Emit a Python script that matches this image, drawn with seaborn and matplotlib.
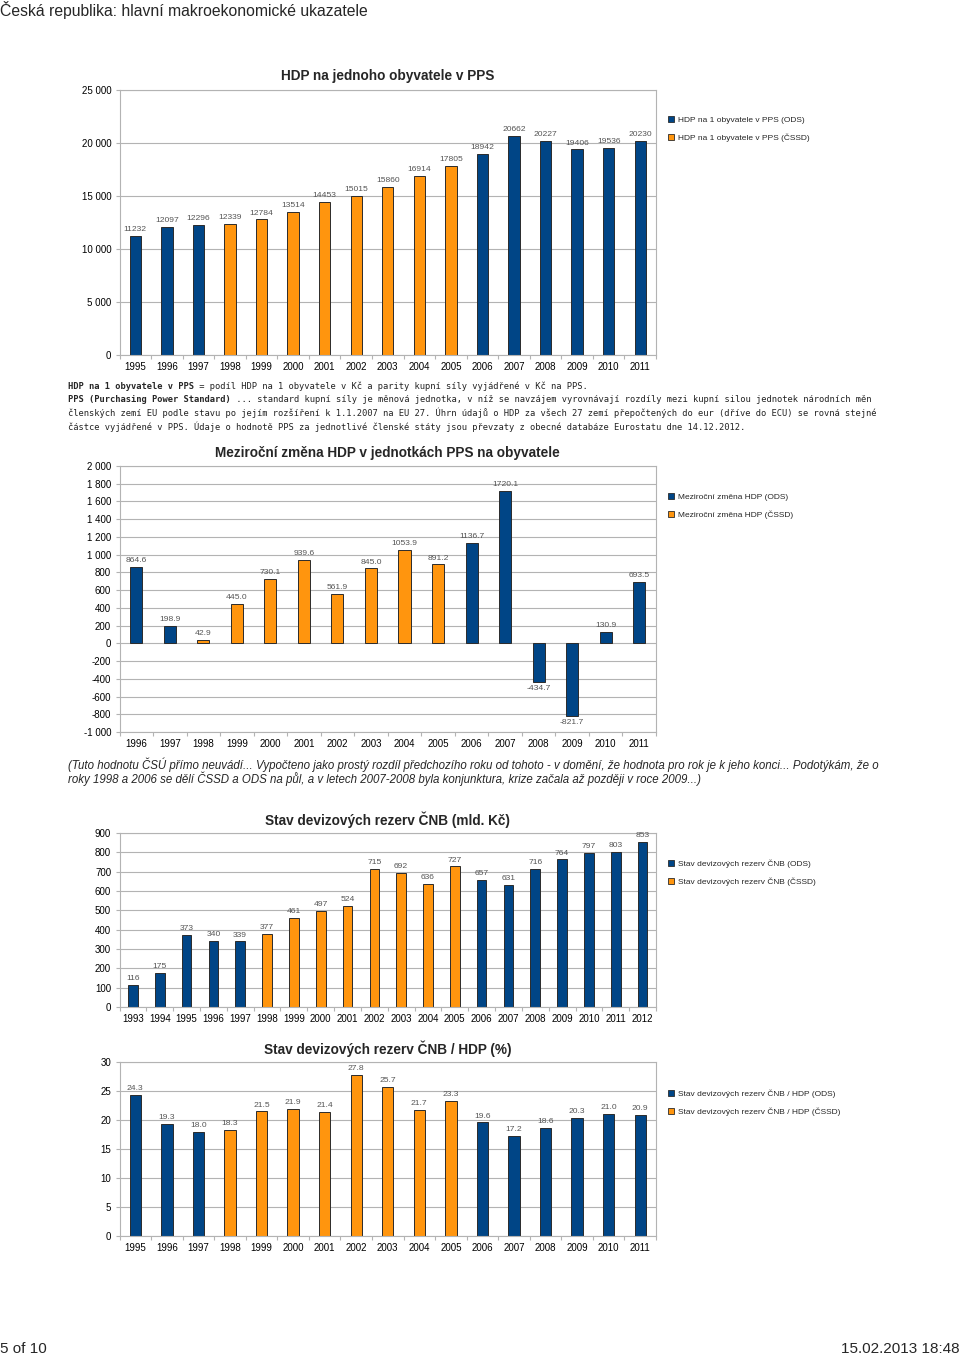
import numpy as np
import pandas as pd
import matplotlib
matplotlib.use('Agg')
import matplotlib.pyplot as plt
from matplotlib.patches import Patch
from matplotlib.ticker import FuncFormatter, MultipleLocator
import seaborn as sns

# ---------------- data ----------------
years_hdp = [str(y) for y in range(1995, 2012)]
hdp_pps = [11232, 12097, 12296, 12339, 12784, 13514, 14453, 15015, 15860,
           16914, 17805, 18942, 20662, 20227, 19406, 19536, 20230]

years_chg = [str(y) for y in range(1996, 2012)]
hdp_chg = [864.6, 198.9, 42.9, 445.0, 730.1, 939.6, 561.9, 845.0, 1053.9,
           891.2, 1136.7, 1720.1, -434.7, -821.7, 130.9, 693.5]

years_rez = [str(y) for y in range(1993, 2013)]
rezervy = [116, 175, 373, 340, 339, 377, 461, 497, 524, 715, 692, 636, 727,
           657, 631, 716, 764, 797, 803, 853]

years_pct = [str(y) for y in range(1995, 2012)]
rez_pct = [24.3, 19.3, 18.0, 18.3, 21.5, 21.9, 21.4, 27.8, 25.7, 21.7, 23.3,
           19.6, 17.2, 18.6, 20.3, 21.0, 20.9]

cssd_years = [str(y) for y in range(1998, 2006)]
parties = ['ODS', 'ČSSD']
party_colors = {'ODS': '#004586', 'ČSSD': '#ff950e'}

titles = ['HDP na jednoho obyvatele v PPS',
          'Meziroční změna HDP v jednotkách PPS na obyvatele',
          'Stav devizových rezerv ČNB (mld. Kč)',
          'Stav devizových rezerv ČNB / HDP (%)']
legend_names = ['HDP na 1 obyvatele v PPS', 'Meziroční změna HDP',
                'Stav devizových rezerv ČNB', 'Stav devizových rezerv ČNB / HDP']

# ---------------- style ----------------
sns.set_theme(style='white')
plt.rcParams['font.family'] = ['Liberation Sans', 'DejaVu Sans']
plt.rcParams['axes.unicode_minus'] = False

W, H = 960, 1357
fig = plt.figure(figsize=(W / 100, H / 100), dpi=100)
fig.patch.set_facecolor('white')

GRID = '#b3b3b3'
L, R = 119.5, 656.0


def fy(px):
    return 1 - px / H


def space_fmt(v, pos):
    s = f"{int(round(v)):,}".replace(',', ' ')
    return s


def panel(top, bottom, years, values, title, ylim, ystep, lab_fmt,
          legname, leg_top, title_y):
    ax = fig.add_axes([L / W, fy(bottom), (R - L) / W, (bottom - top) / H])
    df = pd.DataFrame({'year': years, 'value': values})
    df['party'] = np.where(df['year'].isin(cssd_years), 'ČSSD', 'ODS')
    sns.barplot(data=df, x='year', y='value', hue='party', order=years,
                hue_order=parties, palette=party_colors, dodge=False,
                width=0.36, edgecolor='#2b2b2b', linewidth=0.7,
                legend=False, ax=ax, saturation=1)
    for cont in ax.containers:
        ax.bar_label(cont, fmt=lab_fmt, padding=2, fontsize=6.1,
                     color='#555555')
    ax.set_ylim(*ylim)
    ax.set_xlim(-0.5, len(years) - 0.5)
    ax.yaxis.set_major_locator(MultipleLocator(ystep))
    ax.yaxis.set_major_formatter(FuncFormatter(space_fmt))
    ax.set_xlabel('')
    ax.set_ylabel('')
    ax.yaxis.grid(True, color=GRID, linewidth=0.8)
    ax.set_axisbelow(True)
    for sp in ax.spines.values():
        sp.set_color(GRID)
        sp.set_linewidth(0.8)
    ax.set_xticks(np.arange(-0.5, len(years), 1), minor=True)
    ax.tick_params(axis='x', which='major', length=0, pad=5, labelsize=7,
                   labelcolor='#000000')
    ax.tick_params(axis='x', which='minor', length=3, color=GRID, width=0.8,
                   bottom=True)
    ax.tick_params(axis='y', which='major', length=3, color=GRID, width=0.8,
                   pad=3, labelsize=7, left=True, labelcolor='#000000')
    fig.text((L + R) / 2 / W, fy(title_y), title, ha='center', va='center',
             fontsize=9.8, fontweight='bold')
    handles = [Patch(facecolor=party_colors[p], edgecolor='#2b2b2b',
                     linewidth=0.6, label=f'{legname} ({p})')
               for p in parties]
    fig.legend(handles=handles, loc='upper left',
               bbox_to_anchor=(667.5 / W, fy(leg_top)),
               frameon=False, fontsize=6, handlelength=0.75,
               handleheight=0.75, handletextpad=0.45, borderpad=0,
               borderaxespad=0, labelspacing=1.15)
    return ax


panel(90, 355, years_hdp, hdp_pps, titles[0], (0, 25000), 5000, '%d',
      legend_names[0], 116, 76)
panel(466, 732, years_chg, hdp_chg, titles[1], (-1000, 2000), 200, '%.1f',
      legend_names[1], 493, 453)
panel(833, 1007, years_rez, rezervy, titles[2], (0, 900), 100, '%d',
      legend_names[2], 859, 820)
panel(1062, 1236, years_pct, rez_pct, titles[3], (0, 30), 5, '%.1f',
      legend_names[3], 1089, 1049)

# ---------------- header / footer ----------------
fig.text(0.0, fy(10), 'Česká republika: hlavní makroekonomické ukazatele',
         ha='left', va='center', fontsize=11.3)
fig.text(0.0, fy(1349), '5 of 10', ha='left', va='center', fontsize=11)
fig.text(1.0, fy(1349), '15.02.2013 18:48', ha='right', va='center',
         fontsize=11)

# ---------------- mono text block ----------------
MONO = ['DejaVu Sans Mono']
mfs = 6.3
cw = 0.6 * mfs * 100 / 72  # px per char
x0 = 68
lines = [
    ('HDP na 1 obyvatele v PPS',
     ' = podíl HDP na 1 obyvatele v Kč a parity kupní síly vyjádřené v Kč na PPS.'),
    ('PPS (Purchasing Power Standard)',
     ' ... standard kupní síly je měnová jednotka, v níž se navzájem vyrovnávají rozdíly mezi kupní silou jednotek národních měn'),
    ('', 'členských zemí EU podle stavu po jejím rozšíření k 1.1.2007 na EU 27. Úhrn údajů o HDP za všech 27 zemí přepočtených do eur (dříve do ECU) se rovná stejné'),
    ('', 'částce vyjádřené v PPS. Údaje o hodnotě PPS za jednotlivé členské státy jsou převzaty z obecné databáze Eurostatu dne 14.12.2012.'),
]
ys = [386, 400, 413, 427]
for (b, n), y in zip(lines, ys):
    if b:
        fig.text(x0 / W, fy(y), b, family=MONO, fontsize=mfs,
                 fontweight='bold', va='center', ha='left')
    fig.text((x0 + len(b) * cw) / W, fy(y), n, family=MONO, fontsize=mfs,
             va='center', ha='left', color='#222222')

# ---------------- note ----------------
note1 = ('(Tuto hodnotu ČSÚ přímo neuvádí... Vypočteno jako prostý rozdíl předchozího roku od tohoto - '
         'v domění, že hodnota pro rok je k jeho konci... Podotýkám, že o')
note2 = ('roky 1998 a 2006 se dělí ČSSD a ODS na půl, a v letech 2007-2008 byla konjunktura, '
         'krize začala až později v roce 2009...)')
fig.text(68 / W, fy(765), note1, fontsize=8.3, style='italic', va='center')
fig.text(68 / W, fy(779), note2, fontsize=8.3, style='italic', va='center')

fig.savefig('out.png', dpi=100, facecolor='white')
